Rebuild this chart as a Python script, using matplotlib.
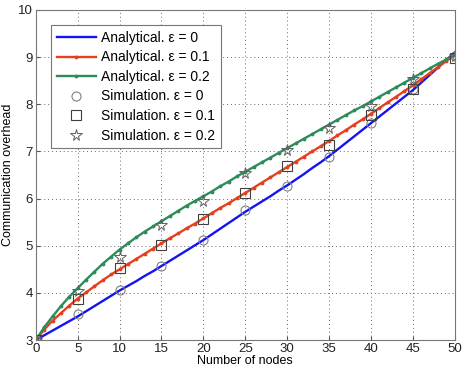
import numpy as np
import matplotlib
matplotlib.use("Agg")
import matplotlib.pyplot as plt

plt.rcParams['font.family'] = ['Liberation Sans', 'DejaVu Sans']

# analytical curves, one value per node count 0..50
nodes = list(range(0, 51))
ana_e0 = [3.00, 3.10, 3.20, 3.30, 3.40, 3.50,
          3.61, 3.72, 3.83, 3.94, 4.05,
          4.15, 4.25, 4.36, 4.46, 4.57,
          4.68, 4.79, 4.90, 5.01, 5.12,
          5.24, 5.36, 5.48, 5.60, 5.72,
          5.83, 5.94, 6.05, 6.17, 6.28,
          6.40, 6.52, 6.65, 6.77, 6.90,
          7.04, 7.18, 7.32, 7.46, 7.60,
          7.74, 7.88, 8.02, 8.16, 8.30,
          8.46, 8.62, 8.78, 8.94, 9.10]
ana_e01 = [3.00, 3.22, 3.41, 3.57, 3.73, 3.88,
           4.01, 4.14, 4.27, 4.39, 4.50,
           4.61, 4.72, 4.83, 4.94, 5.05,
           5.16, 5.26, 5.37, 5.47, 5.58,
           5.69, 5.80, 5.90, 6.01, 6.12,
           6.23, 6.34, 6.45, 6.56, 6.67,
           6.78, 6.89, 7.00, 7.11, 7.22,
           7.34, 7.45, 7.57, 7.68, 7.80,
           7.92, 8.04, 8.16, 8.28, 8.40,
           8.53, 8.66, 8.79, 8.92, 9.05]
ana_e02 = [3.00, 3.27, 3.50, 3.72, 3.92, 4.10,
           4.28, 4.45, 4.62, 4.77, 4.92,
           5.05, 5.18, 5.30, 5.41, 5.52,
           5.63, 5.74, 5.85, 5.95, 6.05,
           6.15, 6.26, 6.36, 6.47, 6.57,
           6.67, 6.77, 6.87, 6.97, 7.07,
           7.17, 7.27, 7.37, 7.47, 7.57,
           7.67, 7.77, 7.87, 7.96, 8.06,
           8.16, 8.26, 8.36, 8.46, 8.56,
           8.66, 8.76, 8.86, 8.95, 9.05]

# simulation points every 5 nodes
sim_nodes = [0, 5, 10, 15, 20, 25, 30, 35, 40, 45, 50]
sim_e0 = [3.0, 3.55, 4.07, 4.58, 5.12, 5.76, 6.26, 6.89, 7.60, 8.32, 9.03]
sim_e01 = [3.0, 3.86, 4.53, 5.01, 5.56, 6.11, 6.70, 7.14, 7.77, 8.32, 8.98]
sim_e02 = [3.0, 4.03, 4.77, 5.43, 5.95, 6.54, 7.02, 7.50, 7.96, 8.53, 9.03]

fig = plt.figure(figsize=(4.65, 3.7), dpi=100)
ax = fig.add_axes([0.077, 0.081, 0.901, 0.892])

ax.plot(nodes, ana_e0, color='#1414f0', lw=1.7, label='Analytical. ε = 0')
ax.plot(nodes, ana_e01, color='#e5401e', lw=1.7, marker='.', ms=3.5, label='Analytical. ε = 0.1')
ax.plot(nodes, ana_e02, color='#2e8b5a', lw=1.7, marker='.', ms=3.5, label='Analytical. ε = 0.2')
ax.plot(sim_nodes, sim_e0, ls='none', marker='o', mfc='none', mec='#808080', ms=6.5, mew=0.8,
        label='Simulation. ε = 0')
ax.plot(sim_nodes, sim_e01, ls='none', marker='s', mfc='none', mec='#404040', ms=6.5, mew=0.8,
        label='Simulation. ε = 0.1')
ax.plot(sim_nodes, sim_e02, ls='none', marker='*', mfc='none', mec='#606060', ms=8.5, mew=0.7,
        label='Simulation. ε = 0.2')

ax.set_xlim(0, 50)
ax.set_ylim(3, 10)
ax.set_xticks(range(0, 51, 5))
ax.set_yticks(range(3, 11))
ax.tick_params(direction='in', labelsize=9.5, length=3, color='#555555', labelcolor='#222222', pad=2)
ax.grid(True, ls=(0, (1, 3)), color='#666666', lw=0.7)
for s in ax.spines.values():
    s.set_color('#777777')

ax.set_xlabel('Number of nodes', fontsize=9, labelpad=0)
ax.set_ylabel('Communication overhead', fontsize=9, labelpad=3)

leg = ax.legend(loc='upper left', fontsize=10, handlelength=2.8, handletextpad=0.4,
                borderaxespad=1.1, borderpad=0.4, labelspacing=0.4,
                fancybox=False, framealpha=1, edgecolor='#777777')
leg.get_frame().set_linewidth(0.8)

fig.savefig('out.png', dpi=100)
